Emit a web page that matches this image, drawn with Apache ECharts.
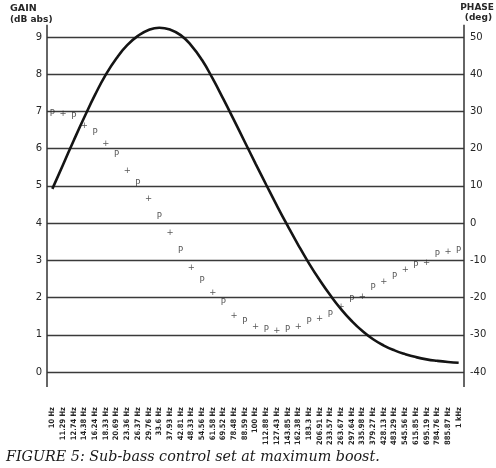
<!DOCTYPE html>
<html>
<head>
<meta charset="utf-8">
<script src="https://cdn.jsdelivr.net/npm/echarts@6/dist/echarts.min.js"></script>
<style>
html,body{margin:0;padding:0;background:#fff;}
#c{width:496px;height:468px;}
</style>
</head>
<body>
<div id="c"></div>
<script>
var freqLabels = ['10 Hz','11.29 Hz','12.74 Hz','14.38 Hz','16.24 Hz','18.33 Hz','20.69 Hz','23.36 Hz','26.37 Hz','29.76 Hz',
  '33.6 Hz','37.93 Hz','42.81 Hz','48.33 Hz','54.56 Hz','61.58 Hz','69.52 Hz','78.48 Hz','88.59 Hz','100 Hz',
  '112.88 Hz','127.43 Hz','143.85 Hz','162.38 Hz','183.3 Hz','206.91 Hz','233.57 Hz','263.67 Hz','297.64 Hz','335.98 Hz',
  '379.27 Hz','428.13 Hz','483.29 Hz','545.56 Hz','615.85 Hz','695.19 Hz','784.76 Hz','885.87 Hz','1 kHz'];
var gainDb = [4.92,5.57,6.22,6.85,7.45,7.99,8.43,8.78,9.03,9.19,
  9.25,9.2,9.05,8.77,8.38,7.88,7.33,6.76,6.18,5.6,
  5.03,4.47,3.93,3.41,2.92,2.47,2.06,1.69,1.37,1.1,
  0.88,0.71,0.58,0.48,0.4,0.34,0.3,0.27,0.25];
var phaseDeg = [29.3,29.3,28.5,26.1,24.3,21.2,18.3,14.1,10.5,6.4,
  1.7,-2.7,-7.5,-11.9,-15.5,-18.7,-21.5,-24.9,-26.6,-27.8,
  -28.7,-28.9,-28.7,-27.8,-26.6,-25.8,-24.5,-22.4,-20.5,-19.8,
  -17.5,-15.7,-14.5,-12.6,-11.4,-10.6,-8.4,-7.7,-7.5];
var phaseMarks = ['P','+','P','+','P','+','P','+','P','+','P','+','P','+','P','+','P','+','P','+',
  'P','+','P','+','P','+','P','+','P','+','P','+','P','+','P','+','P','+','P'];
var gainTicks = {min:0, max:9, interval:1};
var phaseTicks = {min:-40, max:50, interval:10};

var ink = '#262626';
var chart = echarts.init(document.getElementById('c'));
var GL = 47, GR = 32, GT = 37, GB = 96;
chart.setOption({
  backgroundColor: '#fff',
  animation: false,
  grid: {left: GL, right: GR, top: GT, bottom: GB, containLabel: false},
  xAxis: {
    type: 'category', data: freqLabels, boundaryGap: true,
    axisLine: {show: false}, axisTick: {show: false}, splitLine: {show: false},
    axisLabel: {rotate: 90, margin: 35, interval: 0, fontSize: 7.5, fontWeight: 'bold',
      fontFamily: "'Liberation Sans Narrow','DejaVu Sans Condensed','Roboto Condensed',sans-serif", color: ink}
  },
  yAxis: [
    {type: 'value', min: gainTicks.min, max: gainTicks.max, interval: gainTicks.interval,
      axisLine: {show: false}, axisTick: {show: false},
      splitLine: {show: true, lineStyle: {color: '#3a3a3a', width: 1.3}},
      axisLabel: {margin: 5, fontSize: 10, fontFamily: "'DejaVu Sans',sans-serif", color: ink}},
    {type: 'value', min: phaseTicks.min, max: phaseTicks.max, interval: phaseTicks.interval,
      axisLine: {show: false}, axisTick: {show: false}, splitLine: {show: false},
      axisLabel: {margin: 6, fontSize: 10, fontFamily: "'DejaVu Sans',sans-serif", color: ink}}
  ],
  series: [
    {type: 'line', name: 'Gain', data: gainDb, yAxisIndex: 0, smooth: 0.5, showSymbol: false, clip: false,
      lineStyle: {color: '#141414', width: 2.6}, z: 3},
    {type: 'scatter', name: 'Phase', data: phaseDeg, yAxisIndex: 1, symbolSize: 1, clip: false,
      itemStyle: {color: 'rgba(0,0,0,0)'},
      label: {show: true, position: 'inside',
        formatter: function(p){ return phaseMarks[p.dataIndex]; },
        fontSize: 8.5, fontFamily: "'DejaVu Sans',sans-serif", color: '#2a2a2a'}, z: 4}
  ]
});

var yTop = chart.convertToPixel({yAxisIndex: 0}, 9.33);
var yBot = chart.convertToPixel({yAxisIndex: 0}, -0.4);
var W = 496;
chart.setOption({
  graphic: [
    {type: 'line', shape: {x1: GL, y1: yTop, x2: GL, y2: yBot}, style: {stroke: '#333', lineWidth: 1.5}},
    {type: 'line', shape: {x1: W - GR, y1: yTop, x2: W - GR, y2: yBot}, style: {stroke: '#333', lineWidth: 1.5}},
    {type: 'text', x: 10, y: 4, style: {text: 'GAIN', font: "bold 9.5px 'DejaVu Sans',sans-serif", fill: ink}},
    {type: 'text', x: 10, y: 15, style: {text: '(dB abs)', font: "bold 9px 'DejaVu Sans',sans-serif", fill: ink}},
    {type: 'text', x: 494, y: 3, style: {text: 'PHASE', align: 'right', font: "bold 9px 'DejaVu Sans',sans-serif", fill: ink}},
    {type: 'text', x: 492, y: 13, style: {text: '(deg)', align: 'right', font: "bold 9px 'DejaVu Sans',sans-serif", fill: ink}},
    {type: 'text', x: 6, y: 450, style: {text: 'FIGURE 5: Sub-bass control set at maximum boost.', font: "italic 14.3px 'DejaVu Serif',serif", fill: '#1a1a1a'}}
  ]
});
</script>
</body>
</html>
